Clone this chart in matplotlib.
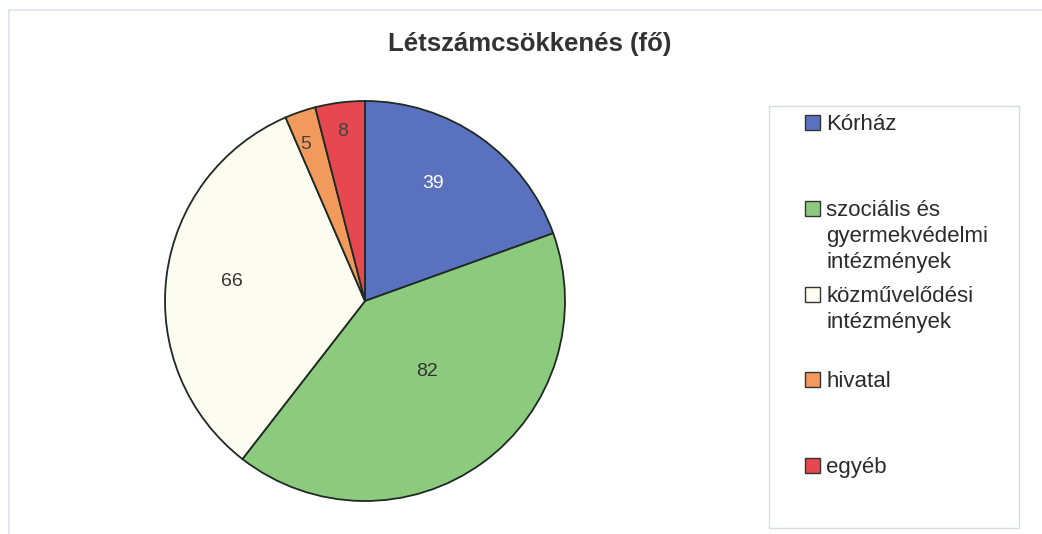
import matplotlib
matplotlib.use("Agg")
import matplotlib.pyplot as plt
from matplotlib.patches import Rectangle
import numpy as np

plt.rcParams['font.family'] = ['Liberation Sans', 'DejaVu Sans']

title = "Létszámcsökkenés (fő)"
categories = ["Kórház", "szociális és\ngyermekvédelmi\nintézmények",
              "közművelődési\nintézmények", "hivatal", "egyéb"]
values = [39, 82, 66, 5, 8]
colors = ["#5a71bf", "#8ccb7d", "#fcfcf0", "#f29a5c", "#e7484f"]
label_colors = ["white", "#333333", "#333333", "#444444", "#444444"]
# label radius (fraction of pie radius) and angular offset (deg) per slice
label_r = [0.68, 0.47, 0.675, 0.835, 0.855]
label_dang = [5, 5.5, -1.3, 2, 0.2]
# legend entry first-line baselines (fig px from top)
legend_base = [130, 216, 302, 387, 473]

W, H = 1042, 534
fig = plt.figure(figsize=(W / 100, H / 100), dpi=100)

# outer faint frame
fig.add_artist(Rectangle((9 / W, -0.1), 1.2, (H - 10) / H + 0.1, transform=fig.transFigure,
                         fill=False, edgecolor="#dde3ec", linewidth=1.2))

cx, cy, r = 365, 301, 200
ax = fig.add_axes([(cx - r) / W, (H - cy - r) / H, 2 * r / W, 2 * r / H])
wedges, _ = ax.pie(values, colors=colors, startangle=90, counterclock=False,
                   radius=1, wedgeprops=dict(edgecolor="#1e2a22", linewidth=1.3))
ax.set_xlim(-1, 1)
ax.set_ylim(-1, 1)
ax.set_aspect("equal")
ax.axis("off")

total = float(sum(values))
cum = np.cumsum([0] + values[:-1])
for v, c0, lr, da, lc in zip(values, cum, label_r, label_dang, label_colors):
    mid = 90 - 360 * (c0 + v / 2) / total + da
    ang = np.deg2rad(mid)
    ax.text(lr * np.cos(ang), lr * np.sin(ang), str(v), ha="center", va="center",
            fontsize=14, color=lc)

fig.text(530 / W, 1 - 51 / H, title, ha="center", va="baseline",
         fontsize=18.5, fontweight="bold", color="#333333")

# legend box
fig.add_artist(Rectangle((769 / W, 1 - 528 / H), (1019 - 769) / W, (528 - 106) / H,
                         transform=fig.transFigure, fill=False,
                         edgecolor="#d8dce2", linewidth=1.0))
sq = 15
line_h = 26
for cat, col, yb in zip(categories, colors, legend_base):
    fig.add_artist(Rectangle((805 / W, 1 - yb / H), sq / W, sq / H,
                             transform=fig.transFigure, facecolor=col,
                             edgecolor="#333333", linewidth=1.0))
    for i, line in enumerate(cat.split("\n")):
        fig.text(826 / W, 1 - (yb + i * line_h) / H, line, ha="left", va="baseline",
                 fontsize=16, color="#2b2b2b")

fig.savefig("out.png", dpi=100, facecolor="white")
